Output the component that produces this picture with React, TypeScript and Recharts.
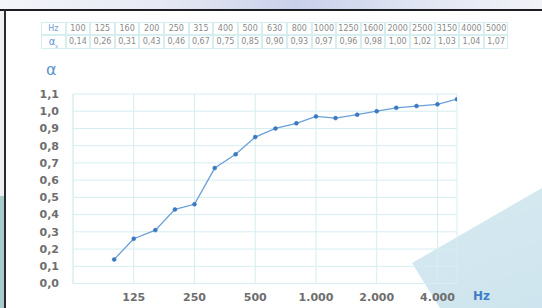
import React from "react";
import { LineChart, Line, XAxis, YAxis, CartesianGrid } from "recharts";

const frequencies = [100, 125, 160, 200, 250, 315, 400, 500, 630, 800, 1000, 1250, 1600, 2000, 2500, 3150, 4000, 5000];
const alphaValues = [0.14, 0.26, 0.31, 0.43, 0.46, 0.67, 0.75, 0.85, 0.9, 0.93, 0.97, 0.96, 0.98, 1.0, 1.02, 1.03, 1.04, 1.07];
const xTicks = [125, 250, 500, 1000, 2000, 4000];
const yTicks = [0, 0.1, 0.2, 0.3, 0.4, 0.5, 0.6, 0.7, 0.8, 0.9, 1.0, 1.1];

const data = frequencies.map((hz, i) => ({ hz, alpha: alphaValues[i] }));

const gridColor = "#d6eef0";
const font = "'DejaVu Sans', Verdana, sans-serif";

const fmtComma = (v: number) => v.toFixed(2).replace(".", ",");
const fmtY = (v: number) => v.toFixed(1).replace(".", ",");
const fmtX = (v: number) => (v >= 1000 ? `${Math.floor(v / 1000)}.${String(v % 1000).padStart(3, "0")}` : String(v));

const cellW = 24.6;
const tableLeft = 41.5;
const tableTop = 22;
const rowH = 13.5;

function Cell({ col, row, children, color }: { col: number; row: number; children: React.ReactNode; color?: string }) {
  return (
    <div
      style={{
        position: "absolute",
        left: tableLeft + col * cellW,
        top: tableTop + row * rowH,
        width: cellW,
        height: rowH,
        boxSizing: "border-box",
        border: `1px solid ${gridColor}`,
        marginLeft: -0.5,
        marginTop: -0.5,
        fontFamily: font,
        fontSize: 8,
        lineHeight: `${rowH - 1}px`,
        textAlign: "center",
        color: color || "#8a8a8a",
        whiteSpace: "nowrap",
      }}
    >
      {children}
    </div>
  );
}

export default function App() {
  return (
    <div style={{ position: "absolute", left: 0, top: 0, width: 542, height: 308, overflow: "hidden", background: "#ffffff" }}>
      {/* frame */}
      <div style={{ position: "absolute", left: 0, top: 0, width: 542, height: 9, background: "linear-gradient(90deg, #f4f5fa 0%, #e6e9f4 30%, #c9d0ea 55%, #e3e7f4 80%, #f2f3f8 100%)" }} />
      <div style={{ position: "absolute", left: 0, top: 9, width: 542, height: 2, background: "#1e1e22" }} />
      <div style={{ position: "absolute", left: 0, top: 11, width: 4, height: 185, background: "#eef0f2" }} />
      <div style={{ position: "absolute", left: 0, top: 196, width: 4, height: 112, background: "#a8cac9" }} />
      <div style={{ position: "absolute", left: 4, top: 9, width: 2, height: 299, background: "#2a2a2e" }} />
      {/* watermark */}
      <div
        style={{
          position: "absolute",
          left: 0,
          top: 0,
          width: 542,
          height: 308,
          background: "linear-gradient(160deg, #e2f0f5 0%, #cfe5ee 60%, #c2deea 100%)",
          clipPath: "polygon(412px 263px, 542px 188px, 542px 308px, 440px 308px)",
          opacity: 0.8,
        }}
      />
      {/* table */}
      <Cell col={0} row={0} color="#6fa0d6">Hz</Cell>
      <Cell col={0} row={1} color="#5b93d3">
        <span style={{ fontSize: 10 }}>α</span>
        <sub style={{ fontSize: 5 }}>s</sub>
      </Cell>
      {frequencies.map((f, i) => (
        <Cell key={`f${i}`} col={i + 1} row={0}>{f}</Cell>
      ))}
      {alphaValues.map((a, i) => (
        <Cell key={`a${i}`} col={i + 1} row={1}>{fmtComma(a)}</Cell>
      ))}
      {/* alpha label */}
      <div style={{ position: "absolute", left: 46, top: 60, fontFamily: font, fontSize: 16, color: "#5b93d3" }}>α</div>
      {/* Hz label */}
      <div style={{ position: "absolute", left: 473, top: 289, fontFamily: font, fontSize: 12, fontWeight: "bold", color: "#3f7fc6" }}>Hz</div>
      <div style={{ position: "absolute", left: 0, top: 0 }}>
        <LineChart width={542} height={308} data={data} margin={{ top: 94, right: 85, bottom: 0, left: 0 }}>
          <CartesianGrid stroke={gridColor} strokeWidth={1} />
          <XAxis
            dataKey="hz"
            type="number"
            scale="log"
            domain={[62.5, 5000]}
            ticks={xTicks}
            tickFormatter={fmtX}
            allowDataOverflow
            axisLine={{ stroke: gridColor }}
            tickLine={false}
            tick={{ fill: "#6e6e6e", fontSize: 11, fontWeight: "bold", fontFamily: font }}
            tickMargin={4}
            height={24.5}
          />
          <YAxis
            type="number"
            domain={[0, 1.1]}
            ticks={yTicks}
            tickFormatter={fmtY}
            axisLine={{ stroke: gridColor }}
            tickLine={false}
            tick={{ fill: "#6e6e6e", fontSize: 11, fontWeight: "bold", fontFamily: font }}
            tickMargin={8}
            width={73}
            interval={0}
          />
          <Line
            dataKey="alpha"
            stroke="#6a9fd8"
            strokeWidth={1.3}
            dot={{ r: 2, fill: "#3a78c2", stroke: "#3a78c2", strokeWidth: 0.5 }}
            isAnimationActive={false}
          />
        </LineChart>
      </div>
    </div>
  );
}
